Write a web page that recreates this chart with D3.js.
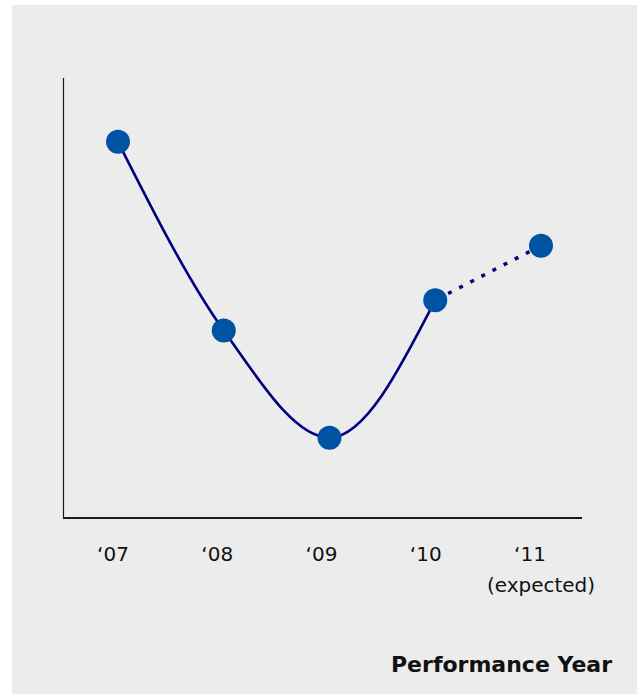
<!DOCTYPE html>
<html>
<head>
<meta charset="utf-8">
<script src="https://cdn.jsdelivr.net/npm/d3@7"></script>
<style>
  html, body { margin: 0; padding: 0; background: #ffffff; }
  svg { display: block; }
</style>
</head>
<body>
<div id="chart"></div>
<script>
// ---- data ----
const categories = ["\u201807", "\u201808", "\u201809", "\u201810", "\u201811"];
const subLabels = ["", "", "", "", "(expected)"];
const values = [85.5, 42.6, 18.25, 49.5, 61.9];
const actualCount = 4; // first four are actual, last is expected
const axisTitle = "Performance Year";

// ---- layout ----
const W = 637, H = 694;
const svg = d3.select("#chart").append("svg").attr("width", W).attr("height", H);

svg.append("rect").attr("x", 12).attr("y", 5).attr("width", W - 12).attr("height", H - 5)
  .attr("fill", "#ececec");

const x = d3.scalePoint().domain(categories).range([118, 541]);
const xLabel = d3.scalePoint().domain(categories).range([113, 530]);
const y = d3.scaleLinear().domain([0, 100]).range([518, 78]);

const data = categories.map((c, i) => ({ c, v: values[i], sub: subLabels[i] }));

// axes
svg.append("line").attr("x1", 63.5).attr("x2", 63.5).attr("y1", y(100)).attr("y2", y(0))
  .attr("stroke", "#1a1a1a").attr("stroke-width", 1.2);
svg.append("line").attr("x1", 63).attr("x2", 582).attr("y1", y(0)).attr("y2", y(0))
  .attr("stroke", "#1a1a1a").attr("stroke-width", 2);

// tick labels
const font = "'DejaVu Sans', Verdana, sans-serif";
svg.selectAll("text.tick").data(data).enter().append("text")
  .attr("class", "tick")
  .attr("x", d => xLabel(d.c)).attr("y", 561)
  .attr("text-anchor", "middle")
  .attr("font-family", font).attr("font-size", 20).attr("fill", "#111")
  .text(d => d.c);
svg.selectAll("text.sub").data(data.filter(d => d.sub)).enter().append("text")
  .attr("class", "sub")
  .attr("x", d => x(d.c)).attr("y", 592)
  .attr("text-anchor", "middle")
  .attr("font-family", font).attr("font-size", 20).attr("fill", "#111")
  .text(d => d.sub);

// axis title
svg.append("text").attr("x", 612).attr("y", 672).attr("text-anchor", "end")
  .attr("font-family", font).attr("font-size", 22).attr("font-weight", "bold").attr("fill", "#111")
  .text(axisTitle);

// actual line
const line = d3.line().x(d => x(d.c)).y(d => y(d.v)).curve(d3.curveMonotoneX);
svg.append("path").datum(data.slice(0, actualCount))
  .attr("d", line).attr("fill", "none").attr("stroke", "#000080").attr("stroke-width", 2.6);

// expected line (dotted)
const lineStraight = d3.line().x(d => x(d.c)).y(d => y(d.v));
svg.append("path").datum(data.slice(actualCount - 1))
  .attr("d", lineStraight).attr("fill", "none").attr("stroke", "#000080")
  .attr("stroke-width", 3.5).attr("stroke-dasharray", "4,8.5").attr("stroke-dashoffset", -2);

// dots
svg.selectAll("circle.pt").data(data).enter().append("circle")
  .attr("class", "pt")
  .attr("cx", d => x(d.c)).attr("cy", d => y(d.v)).attr("r", 12)
  .attr("fill", "#0052a3");
</script>
</body>
</html>
